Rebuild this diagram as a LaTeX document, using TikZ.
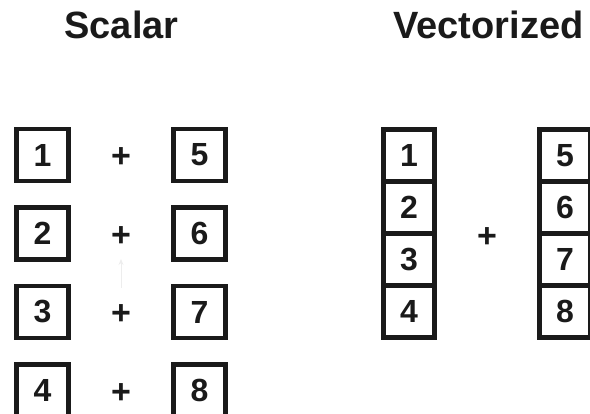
\documentclass[tikz,border=0pt]{standalone}
\usepackage{fontspec}
\setmainfont{Liberation Sans}
\usetikzlibrary{arrows.meta}
\definecolor{ink}{HTML}{1A1A1A}
\begin{document}
\begin{tikzpicture}[x=1pt,y=-1pt,
  title/.style={font=\fontsize{38}{40}\selectfont\bfseries, text=ink, anchor=base, inner sep=0pt},
  cell/.style={draw=ink, line width=4.6pt, minimum width=52pt, minimum height=52pt, inner sep=0pt,
    font=\fontsize{32}{34}\selectfont\bfseries, text=ink},
  vcell/.style={draw=ink, line width=4.6pt, minimum width=51.5pt, minimum height=52.1pt, inner sep=0pt,
    font=\fontsize{32}{34}\selectfont\bfseries, text=ink},
  plus/.style={font=\fontsize{34}{36}\selectfont\bfseries, text=ink, inner sep=0pt},
  hint/.style={draw=black!7, line width=1pt, -{Stealth[length=6pt,width=5pt]}}]
\useasboundingbox (0,0) rectangle (590,414);
\clip (0,0) rectangle (590,414);

% headings
\node[title] (tscalar) at (121.5,39) {Scalar};
\node[title] (tvector) at (488.5,39) {Vectorized};

% scalar: one addition per pair
\foreach \a/\b/\y [count=\i] in {1/5/155, 2/6/233.5, 3/7/312, 4/8/390.5}{
  \node[cell] (sa\i) at (42.5,\y) {\a};
  \node[plus] (sp\i) at (121,\y+3) {+};
  \node[cell] (sb\i) at (199.5,\y) {\b};
}

% faint upward arrow below the second plus
\coordinate (hfrom) at (121,288);
\coordinate (hto) at (121,259);
\draw[hint] (hfrom) -- (hto);

% vectorized: two stacked columns and one plus
\foreach \a/\b/\y [count=\i] in {1/5/155.3, 2/6/207.4, 3/7/259.5, 4/8/311.6}{
  \node[vcell] (va\i) at (409,\y) {\a};
  \node[vcell] (vb\i) at (565,\y) {\b};
}
\node[plus] (vp) at (487,238) {+};
\end{tikzpicture}
\end{document}
